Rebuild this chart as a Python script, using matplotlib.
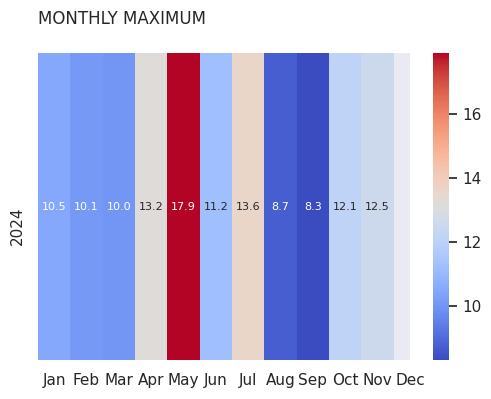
import numpy as np
import pandas as pd
import matplotlib
matplotlib.use("Agg")
import matplotlib.pyplot as plt
import seaborn as sns

months = ["Jan", "Feb", "Mar", "Apr", "May", "Jun", "Jul", "Aug", "Sep", "Oct", "Nov", "Dec"]
years = ["2024"]
# no value for Dec yet
maximum = [10.5, 10.1, 10.0, 13.2, 17.9, 11.2, 13.6, 8.7, 8.3, 12.1, 12.5]

sns.set_theme()

df = pd.DataFrame([maximum], index=years, columns=months[:len(maximum)])

fig = plt.figure(figsize=(4.91, 3.99), dpi=100)
ax = fig.add_axes([38 / 491, 1 - 360 / 399, (410 - 38) / 491, (360 - 53) / 399])
cax = fig.add_axes([433 / 491, 1 - 360 / 399, 16 / 491, (360 - 53) / 399])

sns.heatmap(df, ax=ax, cbar_ax=cax, cmap="coolwarm", annot=True, fmt=".1f",
            annot_kws={"size": 8})

# ticks for all months, this pushes the view out to Dec
ax.set_xticks(np.arange(len(months)) + 0.5, months)
ax.tick_params(axis="x", rotation=0)
ax.tick_params(axis="y", rotation=90)
for lab in ax.get_yticklabels():
    lab.set_va("top")
ax.grid(False)
ax.set_xlabel("")
ax.set_ylabel("")
ax.set_title("MONTHLY MAXIMUM", loc="left", pad=21)

fig.savefig("out.png", dpi=100)
